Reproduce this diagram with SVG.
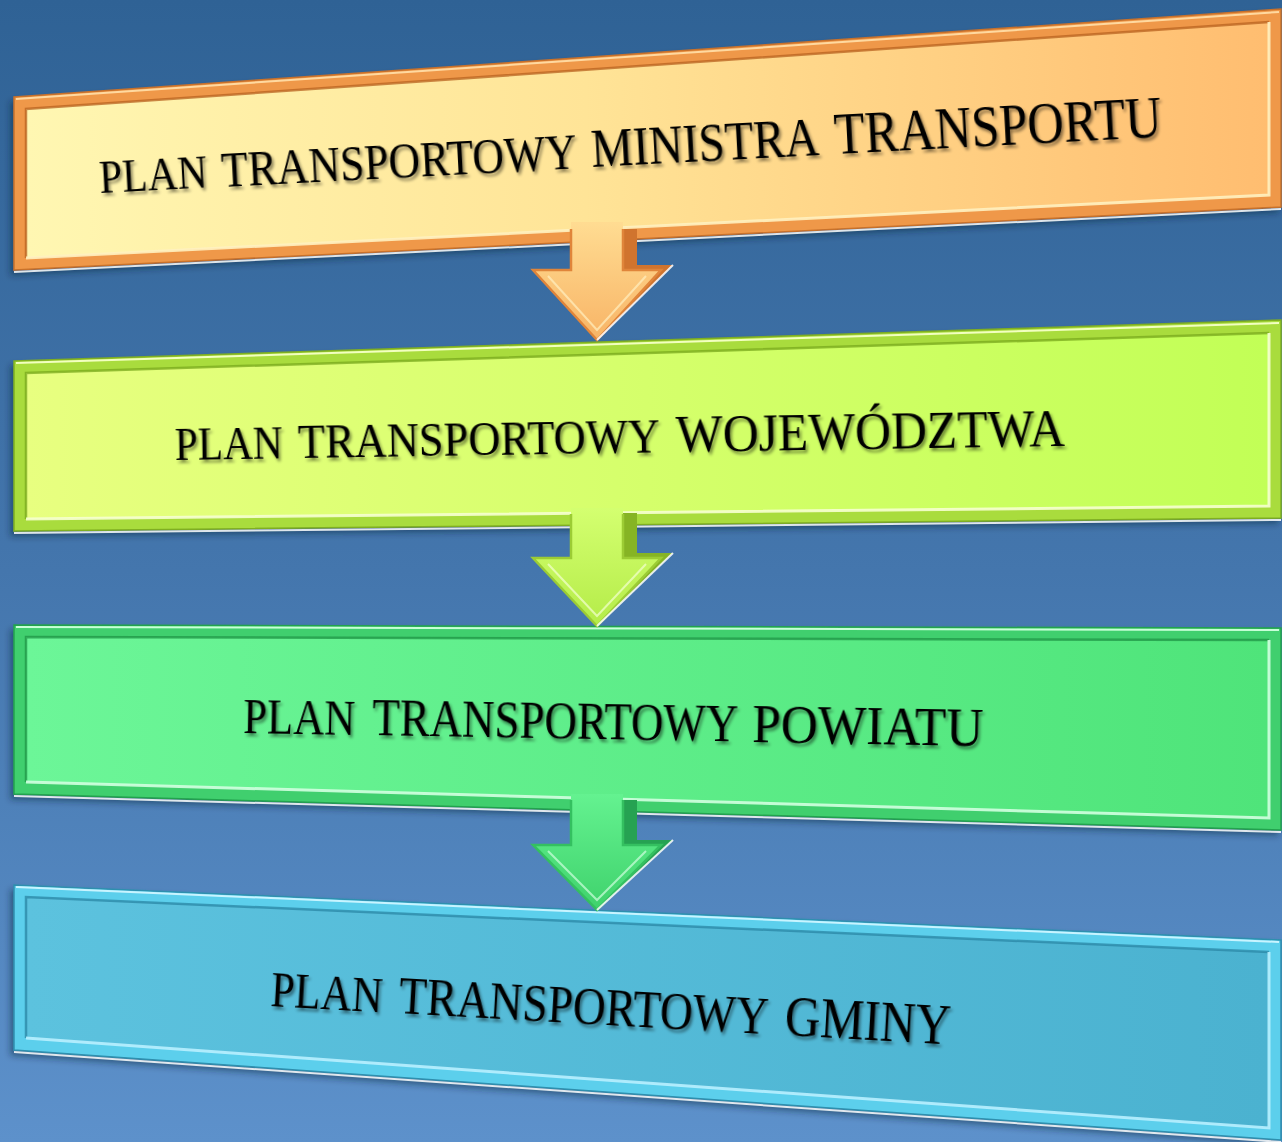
<svg xmlns="http://www.w3.org/2000/svg" width="1282" height="1142" viewBox="0 0 1282 1142">
  <defs>
    <linearGradient id="bg" x1="0" y1="0" x2="0" y2="1">
      <stop offset="0" stop-color="#2f6295"/>
      <stop offset="0.5" stop-color="#4476ad"/>
      <stop offset="1" stop-color="#5d91cb"/>
    </linearGradient>
    <linearGradient id="faceO" gradientUnits="userSpaceOnUse" x1="26" y1="0" x2="1269" y2="0">
      <stop offset="0" stop-color="#fff7b2"/>
      <stop offset="0.45" stop-color="#ffe497"/>
      <stop offset="1" stop-color="#ffbd70"/>
    </linearGradient>
    <linearGradient id="faceY" gradientUnits="userSpaceOnUse" x1="26" y1="0" x2="1269" y2="0">
      <stop offset="0" stop-color="#e8ff80"/>
      <stop offset="1" stop-color="#c2ff56"/>
    </linearGradient>
    <linearGradient id="faceG" gradientUnits="userSpaceOnUse" x1="26" y1="0" x2="1269" y2="0">
      <stop offset="0" stop-color="#6cf698"/>
      <stop offset="1" stop-color="#4fe47a"/>
    </linearGradient>
    <linearGradient id="faceC" gradientUnits="userSpaceOnUse" x1="26" y1="0" x2="1269" y2="0">
      <stop offset="0" stop-color="#5cc2de"/>
      <stop offset="1" stop-color="#4bb2d0"/>
    </linearGradient>
    <linearGradient id="arrO" x1="0" y1="0" x2="0" y2="1">
      <stop offset="0" stop-color="#ffdc92"/>
      <stop offset="1" stop-color="#f8b466"/>
    </linearGradient>
    <linearGradient id="arrY" x1="0" y1="0" x2="0" y2="1">
      <stop offset="0" stop-color="#d4ff70"/>
      <stop offset="1" stop-color="#b4ec48"/>
    </linearGradient>
    <linearGradient id="arrG" x1="0" y1="0" x2="0" y2="1">
      <stop offset="0" stop-color="#64f290"/>
      <stop offset="1" stop-color="#3fd26c"/>
    </linearGradient>
    <filter id="boxShadow" x="-5%" y="-20%" width="110%" height="150%">
      <feDropShadow dx="-3" dy="5" stdDeviation="3" flood-color="#0d2036" flood-opacity="0.45"/>
    </filter>
    <filter id="txtShadow" x="-5%" y="-30%" width="110%" height="170%">
      <feDropShadow dx="2" dy="3" stdDeviation="1.6" flood-color="#000" flood-opacity="0.45"/>
    </filter>
  </defs>
  <style>
    .lbl { font-family: "Liberation Serif", "DejaVu Serif", serif; fill: #000; filter: url(#txtShadow); }
    .hl { fill: none; stroke: #ffffff; stroke-opacity: 0.85; stroke-width: 2; }
    .bevelDark { fill: none; stroke-width: 2.5; stroke-opacity: 0.75; }
    .bevelLight { fill: none; stroke-width: 3; stroke-opacity: 0.9; }
    .arrEdge { fill: none; stroke-width: 2.5; stroke-linejoin: miter; }
  </style>

  <rect x="0" y="0" width="1282" height="1142" fill="url(#bg)"/>

  <!-- Node 1 -->
  <g id="node-ministra">
    <polygon points="14,97 1281,9 1281,207 14,270" fill="#ef9848" stroke="#c8712c" stroke-width="1.5" filter="url(#boxShadow)"/>
    <polyline class="hl" points="14,272 1281,209"/>
    <polyline points="16,99 1279,12" fill="none" stroke="#ffd9a0" stroke-width="2"/>
    <polygon points="26,109 1269,22 1269,195 26,258" fill="url(#faceO)"/>
    <polyline class="bevelDark" stroke="#b8621f" points="26,258 26,109 1269,22"/>
    <polyline class="bevelLight" stroke="#fff1c0" points="1269,22 1269,195 26,258"/>
    <text class="lbl" x="100" y="193" font-size="46.6" textLength="108" lengthAdjust="spacingAndGlyphs" transform="rotate(-3.02 100 193)">PLAN</text>
    <text class="lbl" x="222" y="186.6" font-size="50" textLength="356" lengthAdjust="spacingAndGlyphs" transform="rotate(-3.02 222 186.6)">TRANSPORTOWY</text>
    <text class="lbl" x="592" y="167.1" font-size="54.5" textLength="228" lengthAdjust="spacingAndGlyphs" transform="rotate(-3.02 592 167.1)">MINISTRA</text>
    <text class="lbl" x="835" y="154.3" font-size="58.8" textLength="328" lengthAdjust="spacingAndGlyphs" transform="rotate(-3.02 835 154.3)">TRANSPORTU</text>
  </g>

  <!-- Node 2 -->
  <g id="node-wojewodztwa">
    <polygon points="14,361 1281,320 1281,518 14,531" fill="#a9dc3c" stroke="#7fae22" stroke-width="1.5" filter="url(#boxShadow)"/>
    <polyline class="hl" points="14,533 1281,520"/>
    <polyline points="16,363 1279,323" fill="none" stroke="#f2ffc0" stroke-width="2"/>
    <polygon points="26,373 1269,333 1269,506 26,519" fill="url(#faceY)"/>
    <polyline class="bevelDark" stroke="#78a81c" points="26,519 26,373 1269,333"/>
    <polyline class="bevelLight" stroke="#f6ffd0" points="1269,333 1269,506 26,519"/>
    <text class="lbl" x="175" y="460" font-size="46.4" textLength="108" lengthAdjust="spacingAndGlyphs" transform="rotate(-0.9 175 460)">PLAN</text>
    <text class="lbl" x="298" y="458.1" font-size="48.9" textLength="362" lengthAdjust="spacingAndGlyphs" transform="rotate(-0.9 298 458.1)">TRANSPORTOWY</text>
    <text class="lbl" x="676" y="452.1" font-size="53" textLength="389" lengthAdjust="spacingAndGlyphs" transform="rotate(-0.9 676 452.1)">WOJEWÓDZTWA</text>
  </g>

  <!-- Node 3 -->
  <g id="node-powiatu">
    <polygon points="14,625 1281,628 1281,830 14,794" fill="#3fcf6e" stroke="#24a24e" stroke-width="1.5" filter="url(#boxShadow)"/>
    <polyline class="hl" points="14,796 1281,832"/>
    <polyline points="16,627 1279,630" fill="none" stroke="#c8ffd8" stroke-width="2"/>
    <polygon points="26,637 1269,640 1269,818 26,782" fill="url(#faceG)"/>
    <polyline class="bevelDark" stroke="#1f9446" points="26,782 26,637 1269,640"/>
    <polyline class="bevelLight" stroke="#d2ffe0" points="1269,640 1269,818 26,782"/>
    <text class="lbl" x="243" y="733" font-size="50.8" textLength="112" lengthAdjust="spacingAndGlyphs" transform="rotate(1.0 243 733)">PLAN</text>
    <text class="lbl" x="372" y="735.3" font-size="53" textLength="366" lengthAdjust="spacingAndGlyphs" transform="rotate(1.0 372 735.3)">TRANSPORTOWY</text>
    <text class="lbl" x="752" y="741.9" font-size="55.5" textLength="231" lengthAdjust="spacingAndGlyphs" transform="rotate(1.0 752 741.9)">POWIATU</text>
  </g>

  <!-- Node 4 -->
  <g id="node-gminy">
    <polygon points="14,885 1281,940 1281,1140 14,1050" fill="#5ccfec" stroke="#2f8fae" stroke-width="1.5" filter="url(#boxShadow)"/>
    <polyline class="hl" points="14,1052 1281,1142"/>
    <polyline points="16,887 1279,942" fill="none" stroke="#c8f4ff" stroke-width="2"/>
    <polygon points="26,897 1269,952 1269,1128 26,1038" fill="url(#faceC)"/>
    <polyline class="bevelDark" stroke="#2a86a4" points="26,1038 26,897 1269,952"/>
    <polyline class="bevelLight" stroke="#b8f0ff" points="1269,952 1269,1128 26,1038"/>
    <text class="lbl" x="270" y="1006" font-size="49.6" textLength="112" lengthAdjust="spacingAndGlyphs" transform="rotate(3.28 270 1006)">PLAN</text>
    <text class="lbl" x="398" y="1013.3" font-size="53" textLength="370" lengthAdjust="spacingAndGlyphs" transform="rotate(3.28 398 1013.3)">TRANSPORTOWY</text>
    <text class="lbl" x="784" y="1035.5" font-size="57" textLength="166" lengthAdjust="spacingAndGlyphs" transform="rotate(3.28 784 1035.5)">GMINY</text>
  </g>

  <!-- Connectors -->
  <g id="connectors">
    <g id="arrow-1">
      <polygon points="623,229 637,229 637,265 673,265 597,340 661,270 623,270" fill="#d0742e"/>
      <polygon points="571,222 623,222 623,270 661,270 597,340 533,270 571,270" fill="url(#arrO)"/>
      <polyline class="arrEdge" stroke="#e0853a" points="571,229 571,270 533,270 597,340 661,270 623,270 623,229"/>
      <polyline class="hl" points="673,265 597,340"/>
      <polyline points="548,276 597,330 646,276" fill="none" stroke="#fff0c0" stroke-width="2" stroke-opacity="0.7"/>
    </g>
    <g id="arrow-2">
      <polygon points="623,513 637,513 637,553 673,553 597,626 661,558 623,558" fill="#86b424"/>
      <polygon points="571,508 623,508 623,558 661,558 597,626 533,558 571,558" fill="url(#arrY)"/>
      <polyline class="arrEdge" stroke="#9ccc34" points="571,514 571,558 533,558 597,626 661,558 623,558 623,514"/>
      <polyline class="hl" points="673,553 597,626"/>
      <polyline points="548,564 597,616 646,564" fill="none" stroke="#f4ffd0" stroke-width="2" stroke-opacity="0.7"/>
    </g>
    <g id="arrow-3">
      <polygon points="623,800 637,800 637,840 673,840 597,910 661,845 623,845" fill="#26a252"/>
      <polygon points="571,794 623,794 623,845 661,845 597,910 533,845 571,845" fill="url(#arrG)"/>
      <polyline class="arrEdge" stroke="#34c060" points="571,800 571,845 533,845 597,910 661,845 623,845 623,800"/>
      <polyline class="hl" points="673,840 597,910"/>
      <polyline points="548,851 597,900 646,851" fill="none" stroke="#d0ffe0" stroke-width="2" stroke-opacity="0.7"/>
    </g>
  </g>
</svg>
